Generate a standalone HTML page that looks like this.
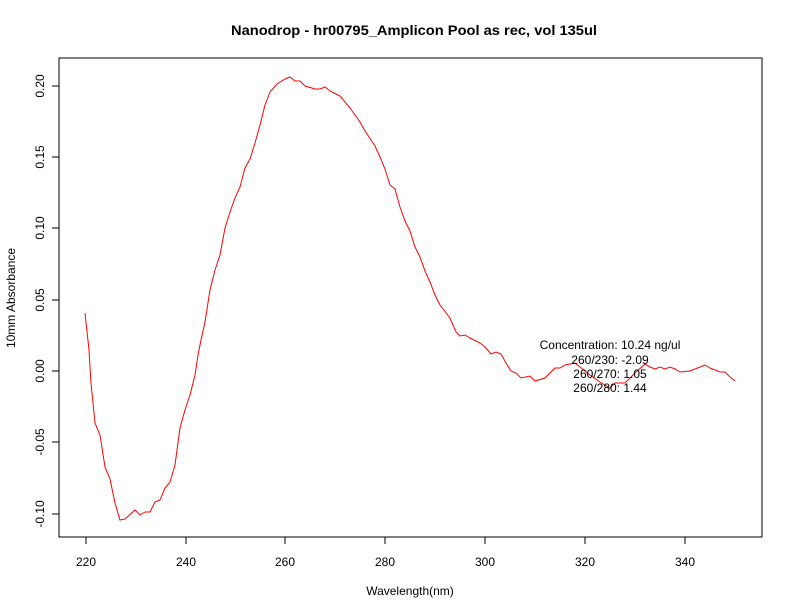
<!DOCTYPE html>
<html><head><style>body{margin:0;background:#fff}svg{display:block}</style></head><body>
<svg width="792" height="612" xmlns="http://www.w3.org/2000/svg" font-family="Liberation Sans, sans-serif">
<rect width="792" height="612" fill="#fff"/>
<text x="414" y="35" font-size="14" font-weight="bold" text-anchor="middle" textLength="366" lengthAdjust="spacingAndGlyphs">Nanodrop - hr00795_Amplicon Pool as rec, vol 135ul</text>
<rect x="59" y="58" width="703" height="479" fill="none" stroke="#000" stroke-width="1"/>
<g stroke="#000" stroke-width="1">
<line x1="86" y1="537" x2="685" y2="537"/>
<line x1="86" y1="537" x2="86" y2="544"/><line x1="186" y1="537" x2="186" y2="544"/><line x1="285" y1="537" x2="285" y2="544"/><line x1="385" y1="537" x2="385" y2="544"/><line x1="485" y1="537" x2="485" y2="544"/><line x1="585" y1="537" x2="585" y2="544"/><line x1="685" y1="537" x2="685" y2="544"/>
<line x1="59" y1="86" x2="59" y2="514"/>
<line x1="52" y1="86" x2="59" y2="86"/><line x1="52" y1="157" x2="59" y2="157"/><line x1="52" y1="228" x2="59" y2="228"/><line x1="52" y1="300" x2="59" y2="300"/><line x1="52" y1="371" x2="59" y2="371"/><line x1="52" y1="442" x2="59" y2="442"/><line x1="52" y1="514" x2="59" y2="514"/>
</g>
<g font-size="12" text-anchor="middle">
<text x="86" y="566">220</text><text x="186" y="566">240</text><text x="285" y="566">260</text><text x="385" y="566">280</text><text x="485" y="566">300</text><text x="585" y="566">320</text><text x="685" y="566">340</text>
<text x="410" y="595">Wavelength(nm)</text>
<g transform="rotate(-90)">
<text x="-86" y="44">0.20</text><text x="-157" y="44">0.15</text><text x="-228" y="44">0.10</text><text x="-300" y="44">0.05</text><text x="-371" y="44">0.00</text><text x="-442" y="44">-0.05</text><text x="-514" y="44">-0.10</text>
<text x="-298" y="15">10mm Absorbance</text>
</g>
</g>
<polyline fill="none" stroke="#ff0000" stroke-width="1" points="85,313 89,350 91,383 95,423 100,435 105,467 110,479 115,503 120,520 125,519 135,510 140,515 145,512 150,512 155,502 160,500 165,488 170,482 175,465 180,428 185,410 190,395 195,375 198,355 201,340 205,322 210,290 215,270 220,255 225,228 230,212 235,198 240,187 245,168 250,159 255,143 260,125 265,105 270,92 277,84 285,79 290,77 295,81 300,81 305,86 315,89 320,89 325,87 330,91 340,96 350,108 360,122 365,131 375,146 380,157 385,169 390,185 395,189 400,207 405,221 410,231 415,247 420,257 425,271 430,282 435,295 440,305 450,318 456,332 460,336 465,335 470,338 480,343 485,347 491,354 496,352 501,354 506,363 511,371 516,373 521,378 530,376 535,381 545,378 550,373 555,368 560,368 565,365 570,364 575,363 580,367 590,375 600,382 610,388 615,383 625,383 635,373 645,364 650,367 655,369 660,367 665,369 670,367 675,369 680,372 690,371 700,367 705,365 710,368 720,372 725,372 730,377 735,381"/>
<g font-size="12" text-anchor="middle">
<text x="610" y="349">Concentration: 10.24 ng/ul</text>
<text x="610" y="364">260/230: -2.09</text>
<text x="610" y="378">260/270: 1.05</text>
<text x="610" y="392">260/280: 1.44</text>
</g>
</svg>
</body></html>
